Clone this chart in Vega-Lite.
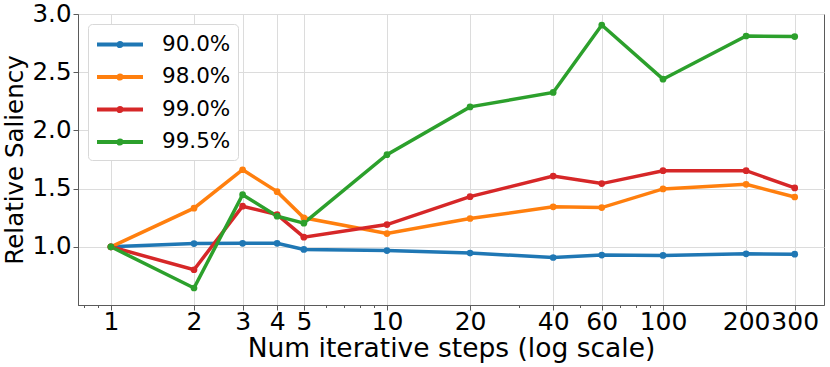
{
  "$schema": "https://vega.github.io/schema/vega-lite/v6.json",
  "autosize": "none",
  "padding": {"left": 78, "top": 14, "right": 6, "bottom": 62},
  "width": 746,
  "height": 291,
  "config": {
    "font": "DejaVu Sans",
    "view": {"stroke": "#5a5a5a", "strokeWidth": 1},
    "axis": {
      "domainColor": "#5a5a5a",
      "tickColor": "#5a5a5a",
      "gridColor": "#dcdcdc",
      "gridWidth": 1,
      "labelColor": "#000000",
      "titleColor": "#000000",
      "labelFont": "DejaVu Sans",
      "titleFont": "DejaVu Sans",
      "titleFontWeight": "normal"
    }
  },
  "data": {
    "values": [
      {"steps": 1, "v": 1.0, "s": "90.0%"},
      {"steps": 2, "v": 1.028, "s": "90.0%"},
      {"steps": 3, "v": 1.03, "s": "90.0%"},
      {"steps": 4, "v": 1.03, "s": "90.0%"},
      {"steps": 5, "v": 0.977, "s": "90.0%"},
      {"steps": 10, "v": 0.968, "s": "90.0%"},
      {"steps": 20, "v": 0.946, "s": "90.0%"},
      {"steps": 40, "v": 0.908, "s": "90.0%"},
      {"steps": 60, "v": 0.929, "s": "90.0%"},
      {"steps": 100, "v": 0.926, "s": "90.0%"},
      {"steps": 200, "v": 0.94, "s": "90.0%"},
      {"steps": 300, "v": 0.937, "s": "90.0%"},
      {"steps": 1, "v": 1.0, "s": "98.0%"},
      {"steps": 2, "v": 1.332, "s": "98.0%"},
      {"steps": 3, "v": 1.662, "s": "98.0%"},
      {"steps": 4, "v": 1.474, "s": "98.0%"},
      {"steps": 5, "v": 1.249, "s": "98.0%"},
      {"steps": 10, "v": 1.114, "s": "98.0%"},
      {"steps": 20, "v": 1.243, "s": "98.0%"},
      {"steps": 40, "v": 1.343, "s": "98.0%"},
      {"steps": 60, "v": 1.337, "s": "98.0%"},
      {"steps": 100, "v": 1.497, "s": "98.0%"},
      {"steps": 200, "v": 1.537, "s": "98.0%"},
      {"steps": 300, "v": 1.428, "s": "98.0%"},
      {"steps": 1, "v": 1.0, "s": "99.0%"},
      {"steps": 2, "v": 0.803, "s": "99.0%"},
      {"steps": 3, "v": 1.349, "s": "99.0%"},
      {"steps": 4, "v": 1.277, "s": "99.0%"},
      {"steps": 5, "v": 1.083, "s": "99.0%"},
      {"steps": 10, "v": 1.191, "s": "99.0%"},
      {"steps": 20, "v": 1.431, "s": "99.0%"},
      {"steps": 40, "v": 1.608, "s": "99.0%"},
      {"steps": 60, "v": 1.543, "s": "99.0%"},
      {"steps": 100, "v": 1.654, "s": "99.0%"},
      {"steps": 200, "v": 1.654, "s": "99.0%"},
      {"steps": 300, "v": 1.506, "s": "99.0%"},
      {"steps": 1, "v": 1.0, "s": "99.5%"},
      {"steps": 2, "v": 0.646, "s": "99.5%"},
      {"steps": 3, "v": 1.448, "s": "99.5%"},
      {"steps": 4, "v": 1.263, "s": "99.5%"},
      {"steps": 5, "v": 1.203, "s": "99.5%"},
      {"steps": 10, "v": 1.791, "s": "99.5%"},
      {"steps": 20, "v": 2.202, "s": "99.5%"},
      {"steps": 40, "v": 2.326, "s": "99.5%"},
      {"steps": 60, "v": 2.905, "s": "99.5%"},
      {"steps": 100, "v": 2.44, "s": "99.5%"},
      {"steps": 200, "v": 2.811, "s": "99.5%"},
      {"steps": 300, "v": 2.806, "s": "99.5%"}
    ]
  },
  "mark": {
    "type": "line",
    "strokeWidth": 3.5,
    "point": {"filled": true, "size": 45}
  },
  "encoding": {
    "x": {
      "field": "steps",
      "type": "quantitative",
      "scale": {"type": "log", "domain": [0.76, 383], "nice": false},
      "axis": {
        "title": "Num iterative steps (log scale)",
        "titleFontSize": 26.5,
        "titlePadding": 1,
        "values": [0.8, 0.9, 1, 2, 3, 4, 5, 6, 7, 8, 9, 10, 20, 30, 40, 50, 60, 70, 80, 90, 100, 200, 300],
        "labelExpr": "indexof([1,2,3,4,5,10,20,40,60,100,200,300], datum.value) >= 0 ? datum.value : ''",
        "labelFontSize": 25,
        "labelOverlap": false,
        "labelFlush": false,
        "labelPadding": -1,
        "tickSize": {"condition": {"test": "indexof([1,2,3,4,5,10,20,40,60,100,200,300], datum.value) >= 0", "value": 5}, "value": 2.5},
        "gridOpacity": {"condition": {"test": "indexof([1,2,3,4,5,10,20,40,60,100,200,300], datum.value) >= 0", "value": 1}, "value": 0}
      }
    },
    "y": {
      "field": "v",
      "type": "quantitative",
      "scale": {"domain": [0.5, 3.0], "nice": false, "zero": false},
      "axis": {
        "title": "Relative Saliency",
        "titleFontSize": 24.5,
        "titlePadding": 5,
        "values": [1.0, 1.5, 2.0, 2.5, 3.0],
        "format": ".1f",
        "labelFontSize": 24.5,
        "labelPadding": 2,
        "tickSize": 5
      }
    },
    "color": {
      "field": "s",
      "type": "nominal",
      "scale": {"domain": ["90.0%", "98.0%", "99.0%", "99.5%"], "range": ["#1f77b4", "#ff7f0e", "#d62728", "#2ca02c"]},
      "legend": {
        "title": null,
        "orient": "top-left",
        "offset": 10,
        "padding": 7,
        "fillColor": "#ffffff",
        "strokeColor": "#d8d8d8",
        "cornerRadius": 4,
        "labelFontSize": 21.5,
        "labelFont": "DejaVu Sans",
        "labelColor": "#000000",
        "labelOffset": 40,
        "rowPadding": 8.5,
        "symbolType": "M-1,0H3M1.14,0A0.14,0.14 0 1,1 0.86,0A0.14,0.14 0 1,1 1.14,0Z",
        "symbolSize": 529,
        "symbolStrokeWidth": 4,
        "symbolOpacity": 1
      }
    }
  }
}
